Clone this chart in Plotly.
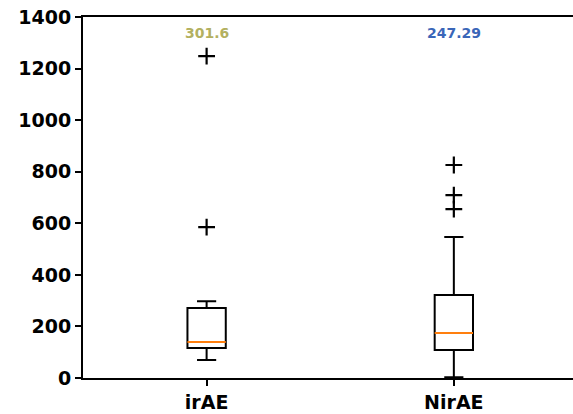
import plotly.graph_objects as go

categories = ["irAE", "NirAE"]
positions = [1, 2]
q1 = [116, 109]
median = [140, 175]
q3 = [271, 322]
lower_whisker = [70, 3]
upper_whisker = [298, 547]
outliers = [[585, 1248], [655, 709, 826]]
means_text = ["301.6", "247.29"]
means_colors = ["#b3b060", "#3a66b8"]

box_width = 0.155

fig = go.Figure()
for i, cat in enumerate(categories):
    fig.add_trace(go.Box(
        x=[positions[i]], q1=[q1[i]], median=[median[i]], q3=[q3[i]],
        lowerfence=[lower_whisker[i]], upperfence=[upper_whisker[i]],
        width=box_width, whiskerwidth=0.5,
        line=dict(color="black", width=2), fillcolor="rgba(255,255,255,0)",
        boxpoints=False, showlegend=False, name=cat,
    ))
    fig.add_trace(go.Scatter(
        x=[positions[i] - box_width / 2, positions[i] + box_width / 2],
        y=[median[i], median[i]], mode="lines",
        line=dict(color="#ff7f0e", width=2), showlegend=False,
    ))
    fig.add_trace(go.Scatter(
        x=[positions[i]] * len(outliers[i]), y=outliers[i], mode="markers",
        marker=dict(symbol="cross-thin", size=12, line=dict(color="black", width=2.2)),
        showlegend=False,
    ))
    fig.add_annotation(
        x=positions[i], y=1.0, yref="paper", yanchor="top", yshift=-6,
        text="<b>" + means_text[i] + "</b>",
        showarrow=False, font=dict(family="DejaVu Sans", size=14, color=means_colors[i]),
    )

fig.update_layout(
    width=573, height=414,
    margin=dict(l=83, r=0, t=17, b=36),
    paper_bgcolor="white", plot_bgcolor="white",
    font=dict(family="DejaVu Sans", size=19, color="black"),
)
fig.update_xaxes(
    range=[0.5, 2.482], tickmode="array", tickvals=positions,
    ticktext=["<b>" + c + "</b>" for c in categories],
    showline=True, linecolor="black", linewidth=2, mirror=True,
    ticks="outside", ticklen=6, tickwidth=2, tickcolor="black",
    showgrid=False, zeroline=False, automargin=False,
    ticklabelstandoff=0,
)
fig.update_yaxes(
    range=[0, 1400], tickmode="array", tickvals=list(range(0, 1401, 200)),
    ticktext=["<b>%d</b>" % v for v in range(0, 1401, 200)],
    showline=True, linecolor="black", linewidth=2,
    ticks="outside", ticklen=6, tickwidth=2, tickcolor="black",
    showgrid=False, zeroline=False, automargin=False,
)

fig.write_html(
    "out.html",
    config={"displayModeBar": False},
    post_script="document.body.style.margin='0';document.body.style.overflow='hidden';",
)
